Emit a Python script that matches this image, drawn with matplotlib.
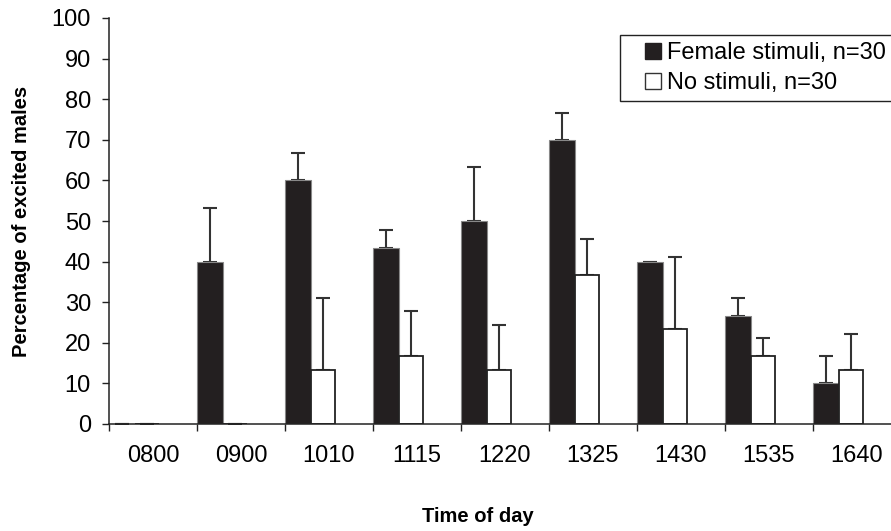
import matplotlib
matplotlib.use("Agg")
import matplotlib.pyplot as plt
import numpy as np
from matplotlib.lines import Line2D

plt.rcParams["font.family"] = ["Liberation Sans", "DejaVu Sans"]

times = ["0800", "0900", "1010", "1115", "1220", "1325", "1430", "1535", "1640"]
female = [0, 40, 60, 43.3, 50, 70, 40, 26.7, 10]
female_err = [0, 13.3, 6.7, 4.5, 13.3, 6.7, 0, 4.4, 6.7]
none = [0, 0, 13.3, 16.7, 13.3, 36.7, 23.3, 16.7, 13.3]
none_err = [0, 0, 17.8, 11.2, 11.0, 8.8, 17.8, 4.4, 8.8]

W, H = 891, 531
fig = plt.figure(figsize=(W / 100, H / 100), dpi=100)
# axes run past the right edge of the picture, as in the original
ax = fig.add_axes([109 / W, 107 / H, 792 / W, 406 / H])

x = np.arange(len(times))
dark = "#231f20"
err_kw = dict(ecolor="#333333", elinewidth=1.5, capsize=5, capthick=1.5)

ax.bar(x, female, width=0.3, align="edge", color=dark, edgecolor="#888888",
       linewidth=0.8, zorder=2)
ax.errorbar(x + 0.15, female, yerr=[np.zeros(len(x)), female_err],
            fmt="none", zorder=1, **err_kw)
ax.bar(x + 0.3, none, width=0.27, align="edge", color="white",
       edgecolor="#222222", linewidth=1.3, zorder=2)
ax.errorbar(x + 0.435, none, yerr=[np.zeros(len(x)), none_err],
            fmt="none", zorder=1, **err_kw)

ax.set_xlim(0, len(times))
ax.set_ylim(0, 100)
ax.set_yticks(np.arange(0, 101, 10))
ax.set_xticks(np.arange(0, len(times) + 1))
ax.set_xticklabels([])
ax.set_xticks(x + 0.5, minor=True)
ax.set_xticklabels(times, minor=True)
ax.tick_params(axis="x", which="minor", length=0, pad=15, labelsize=17)
ax.tick_params(axis="x", which="major", length=5, width=1, color="#222222")
ax.tick_params(axis="y", length=5, width=1, color="#222222", pad=8, labelsize=17)
for s in ("top", "right"):
    ax.spines[s].set_visible(False)
for s in ("left", "bottom"):
    ax.spines[s].set_linewidth(1.1)
    ax.spines[s].set_color("#222222")

ax.set_ylabel("Percentage of excited males", fontsize=14.5, fontweight="bold")
ax.yaxis.set_label_coords(-0.098, 0.5)
ax.set_xlabel("Time of day", fontsize=14.5, fontweight="bold")
ax.xaxis.set_label_coords(0.466, -0.205)

handles = [
    Line2D([], [], ls="none", marker="s", markersize=11.5,
           markerfacecolor=dark, markeredgecolor=dark),
    Line2D([], [], ls="none", marker="s", markersize=11,
           markerfacecolor="white", markeredgecolor="#333333", markeredgewidth=1),
]
leg = ax.legend(handles, ["Female stimuli, n=30", "No stimuli, n=30"],
                loc="upper left", bbox_to_anchor=(620 / W, 1 - 35 / H),
                bbox_transform=fig.transFigure, borderaxespad=0,
                fontsize=17, handlelength=2.2, handletextpad=-0.5,
                borderpad=0.3, labelspacing=0.35, fancybox=False,
                framealpha=1)
leg.get_frame().set_edgecolor("#222222")
leg.get_frame().set_linewidth(1.0)

fig.savefig("out.png", dpi=100)
